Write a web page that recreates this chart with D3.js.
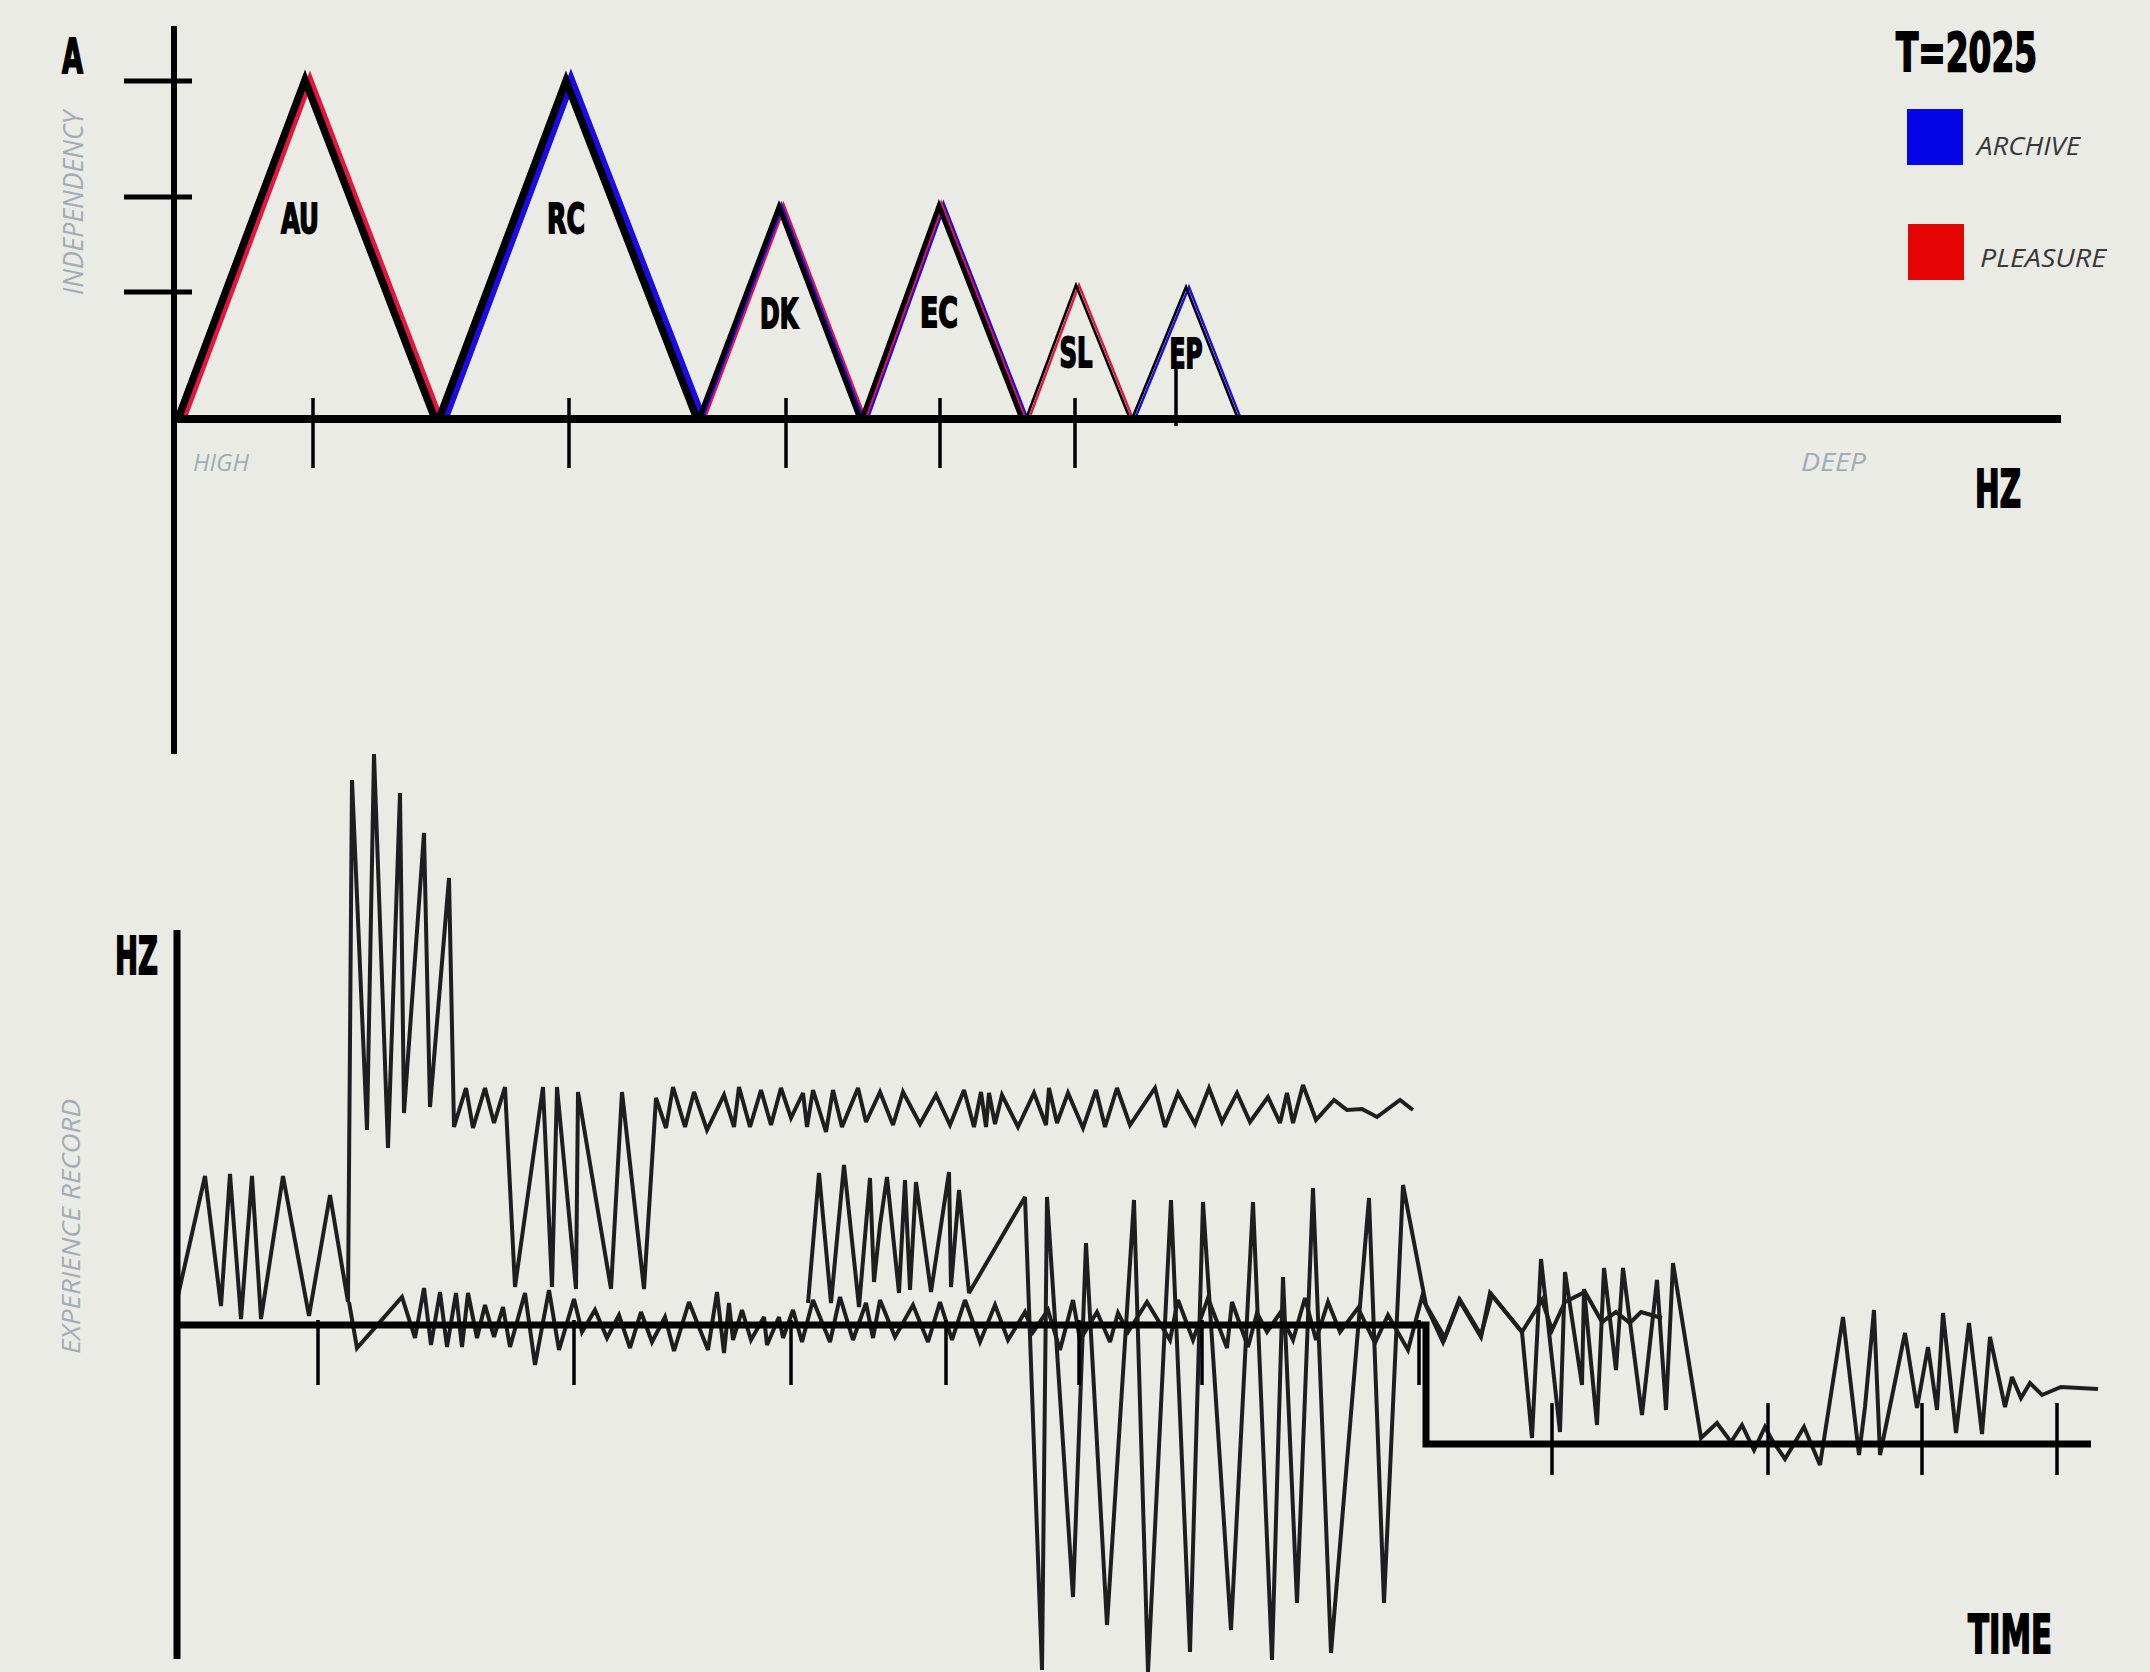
<!DOCTYPE html>
<html>
<head>
<meta charset="utf-8">
<script src="https://cdn.jsdelivr.net/npm/d3@7"></script>
<style>
  html, body { margin: 0; padding: 0; background: #ebebe6; }
  svg { display: block; }
  .heavy { font-family: "Liberation Sans Narrow", "DejaVu Sans Condensed", sans-serif; font-weight: 700; fill: #000; stroke: #000; stroke-width: 1.8px; paint-order: stroke; }
  .faint { font-family: "Open Sans", sans-serif; font-style: italic; font-weight: 400; fill: #a2acb7; }
  .key { font-family: "Open Sans", sans-serif; font-style: italic; font-weight: 400; fill: #383838; }
</style>
</head>
<body>
<svg id="chart" width="2150" height="1672"></svg>
<script>
// ---- top panel: amplitude peaks along the HZ axis ----
const peakNames = ["AU", "RC", "DK", "EC", "SL", "EP"];
const peakStart = [4, 265, 525, 688, 852, 958];
const peakTop = [131, 392, 605, 765, 902, 1012];
const peakEnd = [261, 523, 686, 848, 956, 1064];
const peakHeight = [339, 338, 212, 213, 134, 132];
const peakSeries = [["pleasure"], ["archive"], ["pleasure", "archive"], ["archive", "pleasure"], ["pleasure"], ["archive"]];
const independencyTicks = [127, 222, 338];
const hzTicks = [139, 395, 612, 766, 901];
const hzMarks = [1002];

const legendKeys = ["archive", "pleasure"];
const legendLabels = ["ARCHIVE", "PLEASURE"];

// ---- bottom panel: experience record over time ----
const timeTicksUpper = [141, 397, 614, 769, 902, 1025, 1242];
const timeTicksLower = [1375, 1591, 1745, 1880];
const stepTime = 1249;   // where the baseline drops
const stepLevel = -119;
const timeEnd = 1914;

// [time, hz]
const recordA = [
  [0,25],[28,149],[44,19],[53,151],[64,6],[75,149],[84,6],[106,149],[132,9],[153,130],[171,23],
  [175,545],[190,195],[197,571],[211,177],[223,532],[227,212],[247,492],[253,218],[272,447],[277,198],
  [289,237],[296,197],[308,237],[317,202],[328,238],[338,38],[366,238],[375,38],[380,238],[399,36],
  [401,233],[434,36],[445,233],[467,36],[479,227],[489,197],[496,238],[508,198],[517,233],[530,195],
  [547,230],[557,198],[562,238],[573,198],[584,235],[594,200],[604,237],[614,207],[626,232],[630,198],
  [636,235],[649,193],[656,235],[665,198],[681,237],[689,203],[703,233],[716,200],[726,233],[743,201],
  [759,230],[773,200],[787,235],[797,198],[804,233],[809,198],[812,232],[818,201],[825,230],[841,198],
  [857,232],[869,200],[872,237],[880,202],[891,232],[906,197],[919,235],[928,198],[940,237],[953,200],
  [978,237],[988,198],[1001,232],[1018,201],[1032,237],[1045,203],[1060,232],[1073,203],[1091,228],
  [1103,202],[1110,232],[1116,202],[1126,240],[1139,205],[1157,225],[1170,215],[1185,216],[1200,208],
  [1223,225],[1236,215]
];

const recordB = [
  [172,23],[180,-23],[225,28],[238,-13],[247,37],[254,-20],[263,33],[270,-22],[279,32],[285,-22],
  [291,32],[300,-13],[308,20],[317,-12],[326,18],[333,-22],[348,32],[358,-40],[372,35],[382,-25],
  [397,26],[405,-7],[418,15],[430,-13],[442,10],[453,-23],[464,13],[475,-17],[488,8],[497,-26],
  [512,23],[531,-25],[540,33],[547,-28],[552,22],[556,-15],[565,15],[574,-15],[587,8],[590,-20],
  [602,8],[606,-13],[616,15],[625,-17],[636,25],[653,-17],[663,28],[676,-15],[689,22],[696,-13],
  [703,25],[718,-12],[736,20],[751,-17],[763,23],[775,-15],[788,25],[803,-17],[818,20],[831,-15],
  [848,13],[856,-7],[871,15],[883,-25],[896,25],[903,-15],[920,13],[933,-17],[941,12],[951,-7],
  [970,23],[993,-15],[1001,25],[1016,-15],[1031,27],[1050,-23],[1055,23],[1071,-22],[1080,12],[1090,-7],
  [1103,12],[1116,-15],[1128,27],[1139,-15],[1151,23],[1163,-7],[1181,17],[1198,-18],[1211,10],[1231,-25],
  [1245,28],[1266,-17],[1282,25],[1304,-12],[1313,32],[1345,-7],[1365,25],[1375,-5],[1388,23],[1408,33],
  [1425,3],[1439,13],[1453,2],[1464,13],[1485,7]
];

const recordC = [
  [631,22],[642,152],[654,22],[667,160],[682,18],[693,147],[697,43],[703,100],[710,148],[722,32],
  [728,145],[733,35],[739,143],[754,33],[772,153],[774,38],[782,135],[792,32],[848,128],
  [865,-345],[870,128],[896,-272],[909,82],[930,-300],[957,125],[971,-347],[994,125],[1013,-327],
  [1026,123],[1054,-305],[1076,123],[1095,-335],[1106,48],[1120,-278],[1136,137],[1154,-328],
  [1192,127],[1207,-278],[1226,140],[1249,20],[1268,-13],[1283,25],[1304,-10],[1315,30],[1345,-7],
  [1355,-113],[1364,66],[1383,-107],[1388,53],[1405,-60],[1407,36],[1420,-100],[1427,57],[1439,-45],
  [1446,57],[1465,-90],[1480,45],[1489,-85],[1496,62],[1524,-113],[1540,-98],[1554,-117],[1565,-100],
  [1577,-125],[1588,-102],[1595,-115],[1608,-134],[1627,-102],[1643,-140],[1666,8],[1682,-130],
  [1688,-82],[1697,15],[1703,-130],[1728,-8],[1740,-83],[1751,-22],[1760,-85],[1766,12],[1779,-108],
  [1792,2],[1805,-109],[1813,-12],[1828,-82],[1835,-52],[1844,-73],[1853,-58],[1865,-70],[1884,-62],
  [1921,-64]
];

const svg = d3.select("#chart");
const colors = { archive: "#1c0be6", pleasure: "#e6153f" };
const keyColors = { archive: "#0505e8", pleasure: "#e60505" };

svg.append("rect").attr("width", 2150).attr("height", 1672).attr("fill", "#ebebe6");

// ================= top panel =================
const xTop = d3.scaleLinear().domain([0, 1900]).range([174, 2074]);
const yTop = d3.scaleLinear().domain([0, 400]).range([419, 19]);

const upper = svg.append("g");

// y axis and ticks
upper.append("line")
  .attr("x1", xTop(0)).attr("x2", xTop(0))
  .attr("y1", yTop(393)).attr("y2", yTop(-335))
  .attr("stroke", "#000").attr("stroke-width", 6);

upper.selectAll(".ytick").data(independencyTicks).join("line")
  .attr("x1", xTop(-50)).attr("x2", xTop(18))
  .attr("y1", d => yTop(d)).attr("y2", d => yTop(d))
  .attr("stroke", "#000").attr("stroke-width", 5);

// peaks: coloured copies first, slightly offset, then the black outline
const tri = (i, dx) => [
  [xTop(peakStart[i]) + dx, yTop(0)],
  [xTop(peakTop[i]) + dx, yTop(peakHeight[i])],
  [xTop(peakEnd[i]) + dx, yTop(0)]
];
const lineTop = d3.line();

peakNames.forEach((name, i) => {
  const h = peakHeight[i];
  const w = h > 300 ? 7.5 : h > 200 ? 5 : 2.6;
  const base = h > 300 ? 5 : h > 200 ? 4.5 : 3;
  const g = upper.append("g");
  peakSeries[i].forEach((s, k) => {
    g.append("path")
      .attr("d", lineTop(tri(i, k === 0 ? base : base / 2)))
      .attr("fill", "none")
      .attr("stroke", colors[s])
      .attr("stroke-width", h > 300 && s === "archive" ? w + 1.5 : w * 0.9)
      .attr("stroke-linejoin", "miter");
  });
  g.append("path")
    .attr("d", lineTop(tri(i, 0)))
    .attr("fill", "none")
    .attr("stroke", "#000")
    .attr("stroke-width", w)
    .attr("stroke-linejoin", "miter");

  // label sits part way down the peak
  const level = h > 300 ? 0.55 : h > 200 ? 0.43 : 0.39;
  g.append("text")
    .attr("class", "heavy")
    .attr("x", xTop(peakTop[i]) - (i === 0 ? 5 : 0))
    .attr("y", yTop(h * level))
    .attr("text-anchor", "middle")
    .attr("font-size", 41)
    .attr("textLength", i < 4 ? 38 : 33)
    .attr("lengthAdjust", "spacingAndGlyphs")
    .text(name);
});

// baseline
upper.append("line")
  .attr("x1", xTop(0)).attr("x2", xTop(1887))
  .attr("y1", yTop(0)).attr("y2", yTop(0))
  .attr("stroke", "#000").attr("stroke-width", 8);

upper.selectAll(".xtick").data(hzTicks).join("line")
  .attr("x1", d => xTop(d)).attr("x2", d => xTop(d))
  .attr("y1", yTop(21)).attr("y2", yTop(-49))
  .attr("stroke", "#000").attr("stroke-width", 3.5);

upper.selectAll(".xmark").data(hzMarks).join("line")
  .attr("x1", d => xTop(d)).attr("x2", d => xTop(d))
  .attr("y1", yTop(54)).attr("y2", yTop(-7))
  .attr("stroke", "#000").attr("stroke-width", 3.5);

// top labels
upper.append("text").attr("class", "heavy")
  .attr("x", 62).attr("y", 73).attr("font-size", 48)
  .attr("textLength", 21).attr("lengthAdjust", "spacingAndGlyphs").text("A");

upper.append("text").attr("class", "faint")
  .attr("transform", "translate(83,295) rotate(-90)")
  .attr("font-size", 28).attr("textLength", 184).attr("lengthAdjust", "spacingAndGlyphs")
  .text("INDEPENDENCY");

upper.append("text").attr("class", "faint")
  .attr("x", 193).attr("y", 471).attr("font-size", 24)
  .attr("textLength", 56).attr("lengthAdjust", "spacingAndGlyphs").text("HIGH");

upper.append("text").attr("class", "faint")
  .attr("x", 1801).attr("y", 471).attr("font-size", 25)
  .attr("textLength", 65).attr("lengthAdjust", "spacingAndGlyphs").text("DEEP");

upper.append("text").attr("class", "heavy")
  .attr("x", 1975).attr("y", 507).attr("font-size", 51)
  .attr("textLength", 46).attr("lengthAdjust", "spacingAndGlyphs").text("HZ");

// legend
const legend = svg.append("g");
legend.append("text").attr("class", "heavy")
  .attr("x", 1896).attr("y", 71).attr("font-size", 54)
  .attr("textLength", 141).attr("lengthAdjust", "spacingAndGlyphs").text("T=2025");

legendKeys.forEach((k, i) => {
  const y0 = 109 + i * 115;
  legend.append("rect")
    .attr("x", 1907 + i).attr("y", y0)
    .attr("width", 56).attr("height", 56)
    .attr("fill", keyColors[k]);
  legend.append("text").attr("class", "key")
    .attr("x", 1977 + i * 3).attr("y", y0 + 46 - i * 3)
    .attr("font-size", 25)
    .attr("textLength", i === 0 ? 103 : 126).attr("lengthAdjust", "spacingAndGlyphs")
    .text(legendLabels[i]);
});

// ================= bottom panel =================
const xRec = d3.scaleLinear().domain([0, 1921]).range([177, 2098]);
const yRec = d3.scaleLinear().domain([-347, 595]).range([1672, 730]);

const lower = svg.append("g");

const lineRec = d3.line().x(d => xRec(d[0])).y(d => yRec(d[1]));

[recordA, recordB, recordC].forEach(series => {
  lower.append("path")
    .attr("d", lineRec(series))
    .attr("fill", "none")
    .attr("stroke", "#1e1e1e")
    .attr("stroke-width", 4)
    .attr("stroke-linejoin", "miter")
    .attr("stroke-miterlimit", 3);
});

// axes
lower.append("line")
  .attr("x1", xRec(0)).attr("x2", xRec(0))
  .attr("y1", yRec(395)).attr("y2", yRec(-334))
  .attr("stroke", "#000").attr("stroke-width", 7);

lower.append("path")
  .attr("d", `M${xRec(0)},${yRec(0)}H${xRec(stepTime)}V${yRec(stepLevel)}H${xRec(timeEnd)}`)
  .attr("fill", "none").attr("stroke", "#000").attr("stroke-width", 7);

lower.selectAll(".tu").data(timeTicksUpper).join("line")
  .attr("x1", d => xRec(d)).attr("x2", d => xRec(d))
  .attr("y1", yRec(5)).attr("y2", yRec(-60))
  .attr("stroke", "#000").attr("stroke-width", 3.5);

lower.selectAll(".tl").data(timeTicksLower).join("line")
  .attr("x1", d => xRec(d)).attr("x2", d => xRec(d))
  .attr("y1", yRec(stepLevel + 41)).attr("y2", yRec(stepLevel - 31))
  .attr("stroke", "#000").attr("stroke-width", 3.5);

lower.append("text").attr("class", "heavy")
  .attr("x", 115).attr("y", 974).attr("font-size", 52)
  .attr("textLength", 43).attr("lengthAdjust", "spacingAndGlyphs").text("HZ");

lower.append("text").attr("class", "faint")
  .attr("transform", "translate(80,1354) rotate(-90)")
  .attr("font-size", 26).attr("textLength", 255).attr("lengthAdjust", "spacingAndGlyphs")
  .text("EXPERIENCE RECORD");

lower.append("text").attr("class", "heavy")
  .attr("x", 1968).attr("y", 1653).attr("font-size", 54)
  .attr("textLength", 84).attr("lengthAdjust", "spacingAndGlyphs").text("TIME");
</script>
</body>
</html>
